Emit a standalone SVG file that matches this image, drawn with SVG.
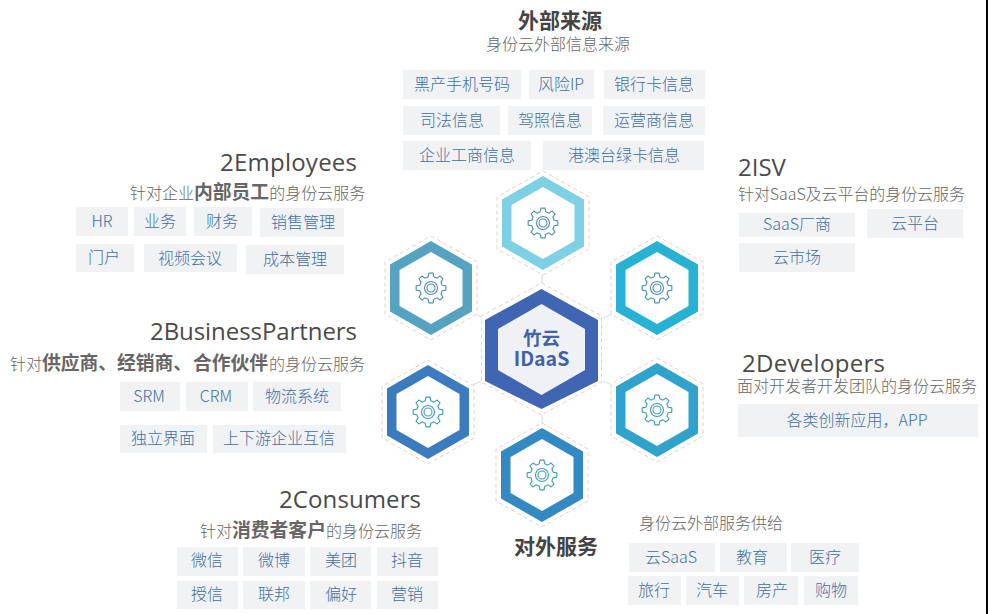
<svg xmlns="http://www.w3.org/2000/svg" width="988" height="614" viewBox="0 0 988 614">
<style>
text{font-family:"Noto Sans CJK SC","Noto Sans",sans-serif;text-spacing-trim:space-all}
.t rect{fill:#f1f2f4}
.t text{fill:#3f6fa6;font-size:16px;font-weight:300;text-anchor:middle}
.h{fill:#4a4a4a;font-size:24px;font-family:"Open Sans","Noto Sans CJK SC",sans-serif}
.s{fill:#666;font-size:16px;font-weight:300}
.b{font-weight:700;fill:#666;font-size:18.8px}
.m{fill:#444;font-size:21px;font-weight:700;text-anchor:middle}
.dash{fill:#fff;stroke:#efcdc6;stroke-width:1;stroke-dasharray:4 3}
.in{fill:#fff}
.g{fill:none;stroke:#4b8fb5;stroke-width:1.1;stroke-linejoin:round}
.g2{fill:none;stroke:#3f9db5;stroke-width:1.1;stroke-linejoin:round}
.c line{stroke:#d9d9de;stroke-width:1}
</style>
<defs>
<polygon id="hd" points="0,-52 46,-26 46,26 0,52 -46,26 -46,-26"/>
<polygon id="ho" points="0,-47 41,-23.5 41,23.5 0,47 -41,23.5 -41,-23.5"/>
<polygon id="hi" points="0,-36 31.5,-18 31.5,18 0,36 -31.5,18 -31.5,-18"/>
<g id="gear">
<path d="M11.16-2.78 14.85-2.09 14.85 2.09 11.16 2.78 9.86 5.92 11.98 9.03 9.03 11.98 5.92 9.86 2.78 11.16 2.09 14.85-2.09 14.85-2.78 11.16-5.92 9.86-9.03 11.98-11.98 9.03-9.86 5.92-11.16 2.78-14.85 2.09-14.85-2.09-11.16-2.78-9.86-5.92-11.98-9.03-9.03-11.98-5.92-9.86-2.78-11.16-2.09-14.85 2.09-14.85 2.78-11.16 5.92-9.86 9.03-11.98 11.98-9.03 9.86-5.92Z"/>
<circle r="6.5"/><circle r="4"/>
</g>
</defs>
<rect width="988" height="614" fill="#fff"/>
<rect x="986" width="2" height="614" fill="#000"/>
<g id="connectors" class="c">
<line x1="542" y1="274" x2="542" y2="284"/>
<line x1="477" y1="315" x2="483" y2="318"/>
<line x1="603" y1="318" x2="612" y2="314"/>
<line x1="481" y1="381" x2="473" y2="385"/>
<line x1="603" y1="381" x2="612" y2="385"/>
<line x1="542" y1="414" x2="542" y2="424"/>
</g>
<g id="hex-center" transform="translate(541.5 349)">
<polygon class="dash" points="0,-66 60,-33 60,33 0,66 -60,33 -60,-33"/>
<polygon fill="#4066b3" points="0,-60 56.5,-29 56.5,32 0,60 -56.5,32 -56.5,-29"/>
<polygon fill="#f0f1f5" points="0,-45 43.5,-20 43.5,21 0,46 -43.5,21 -43.5,-20"/>
<text y="-4" text-anchor="middle" font-size="18.5" font-weight="700" fill="#3f62a8">竹云</text>
<text y="17" text-anchor="middle" font-size="19.5" font-weight="700" fill="#3f62a8">IDaaS</text>
</g>
<g id="hex-top" transform="translate(543 223)"><use href="#hd" class="dash"/><use href="#ho" fill="#7ed0e4"/><use href="#hi" class="in"/><use href="#gear" class="g"/></g>
<g id="hex-upper-left" transform="translate(431 288)"><use href="#hd" class="dash"/><use href="#ho" fill="#55a3c0"/><use href="#hi" class="in"/><use href="#gear" class="g"/></g>
<g id="hex-upper-right" transform="translate(657 288)"><use href="#hd" class="dash"/><use href="#ho" fill="#27b2d3"/><use href="#hi" class="in"/><use href="#gear" class="g"/></g>
<g id="hex-lower-left" transform="translate(428 412)"><use href="#hd" class="dash"/><use href="#ho" fill="#3b7cbf"/><use href="#hi" class="in"/><use href="#gear" class="g2"/></g>
<g id="hex-lower-right" transform="translate(657 410)"><use href="#hd" class="dash"/><use href="#ho" fill="#2fa3cc"/><use href="#hi" class="in"/><use href="#gear" class="g2"/></g>
<g id="hex-bottom" transform="translate(542 475)"><use href="#hd" class="dash"/><use href="#ho" fill="#3389c2"/><use href="#hi" class="in"/><use href="#gear" class="g2"/></g>

<g id="external-sources">
<text class="m" x="560" y="28">外部来源</text>
<text class="s" x="486" y="50">身份云外部信息来源</text>
<g class="t"><rect x="403" y="70" width="118" height="29"/><text x="462" y="90">黑产手机号码</text></g>
<g class="t"><rect x="529" y="70" width="65" height="29"/><text x="561" y="90">风险IP</text></g>
<g class="t"><rect x="604" y="70" width="101" height="29"/><text x="654" y="90">银行卡信息</text></g>
<g class="t"><rect x="403" y="106" width="97" height="29"/><text x="452" y="126">司法信息</text></g>
<g class="t"><rect x="508" y="106" width="84" height="29"/><text x="550" y="126">驾照信息</text></g>
<g class="t"><rect x="603" y="106" width="102" height="29"/><text x="654" y="126">运营商信息</text></g>
<g class="t"><rect x="403" y="141" width="128" height="29"/><text x="467" y="161">企业工商信息</text></g>
<g class="t"><rect x="543" y="141" width="161" height="29"/><text x="624" y="161">港澳台绿卡信息</text></g>
</g>

<g id="employees">
<text class="h" x="220" y="171" textLength="137">2Employees</text>
<text class="s" x="130" y="199">针对企业<tspan class="b">内部员工</tspan>的身份云服务</text>
<g class="t"><rect x="76" y="207" width="52" height="29"/><text x="102" y="227">HR</text></g>
<g class="t"><rect x="134" y="207" width="52" height="29"/><text x="160" y="227">业务</text></g>
<g class="t"><rect x="194" y="207" width="58" height="29"/><text x="222" y="227">财务</text></g>
<g class="t"><rect x="260" y="208" width="84" height="29"/><text x="303" y="228">销售管理</text></g>
<g class="t"><rect x="76" y="244" width="58" height="28"/><text x="104" y="263">门户</text></g>
<g class="t"><rect x="144" y="244" width="93" height="28"/><text x="190" y="264">视频会议</text></g>
<g class="t"><rect x="246" y="245" width="98" height="29"/><text x="295" y="265">成本管理</text></g>
</g>

<g id="isv">
<text class="h" x="738" y="176">2ISV</text>
<text class="s" x="738" y="200" textLength="227">针对SaaS及云平台的身份云服务</text>
<g class="t"><rect x="739" y="213" width="116" height="24"/><text x="797" y="230">SaaS厂商</text></g>
<g class="t"><rect x="867" y="209" width="96" height="29"/><text x="915" y="229">云平台</text></g>
<g class="t"><rect x="739" y="243" width="116" height="29"/><text x="797" y="263">云市场</text></g>
</g>

<g id="business-partners">
<text class="h" x="150" y="340" textLength="207">2BusinessPartners</text>
<text class="s" x="10" y="370">针对<tspan class="b">供应商、</tspan><tspan class="b" x="117">经销商、</tspan><tspan class="b" x="193">合作伙伴</tspan><tspan x="269">的身份云服务</tspan></text>
<g class="t"><rect x="120" y="382" width="60" height="29"/><text x="149" y="402">SRM</text></g>
<g class="t"><rect x="186" y="382" width="62" height="29"/><text x="216" y="402">CRM</text></g>
<g class="t"><rect x="253" y="382" width="88" height="29"/><text x="297" y="402">物流系统</text></g>
<g class="t"><rect x="120" y="425" width="87" height="28"/><text x="163" y="444">独立界面</text></g>
<g class="t"><rect x="213" y="425" width="133" height="28"/><text x="279" y="444">上下游企业互信</text></g>
</g>

<g id="developers">
<text class="h" x="742" y="372" textLength="143">2Developers</text>
<text class="s" x="737" y="392">面对开发者开发团队的身份云服务</text>
<g class="t"><rect x="738" y="404" width="240" height="33"/><text x="857" y="426">各类创新应用，APP</text></g>
</g>

<g id="consumers">
<text class="h" x="279" y="508" textLength="142">2Consumers</text>
<text class="s" x="200" y="537">针对<tspan class="b">消费者客户</tspan>的身份云服务</text>
<g class="t"><rect x="177" y="547" width="61" height="29"/><text x="207" y="566">微信</text></g>
<g class="t"><rect x="243" y="547" width="62" height="29"/><text x="274" y="566">微博</text></g>
<g class="t"><rect x="310" y="547" width="61" height="29"/><text x="341" y="566">美团</text></g>
<g class="t"><rect x="377" y="547" width="61" height="29"/><text x="407" y="566">抖音</text></g>
<g class="t"><rect x="177" y="581" width="61" height="28"/><text x="207" y="600">授信</text></g>
<g class="t"><rect x="243" y="581" width="62" height="28"/><text x="274" y="600">联邦</text></g>
<g class="t"><rect x="310" y="581" width="61" height="28"/><text x="341" y="600">偏好</text></g>
<g class="t"><rect x="377" y="581" width="61" height="28"/><text x="407" y="600">营销</text></g>
</g>

<g id="external-services">
<text class="m" x="556" y="554">对外服务</text>
<text class="s" x="639" y="529">身份云外部服务供给</text>
<g class="t"><rect x="629" y="543" width="86" height="29"/><text x="671" y="563">云SaaS</text></g>
<g class="t"><rect x="720" y="543" width="67" height="29"/><text x="752" y="563">教育</text></g>
<g class="t"><rect x="791" y="543" width="68" height="29"/><text x="825" y="563">医疗</text></g>
<g class="t"><rect x="628" y="576" width="53" height="29"/><text x="654" y="596">旅行</text></g>
<g class="t"><rect x="686" y="576" width="53" height="29"/><text x="712" y="596">汽车</text></g>
<g class="t"><rect x="744" y="576" width="54" height="29"/><text x="772" y="596">房产</text></g>
<g class="t"><rect x="804" y="576" width="54" height="29"/><text x="831" y="596">购物</text></g>
</g>
</svg>
